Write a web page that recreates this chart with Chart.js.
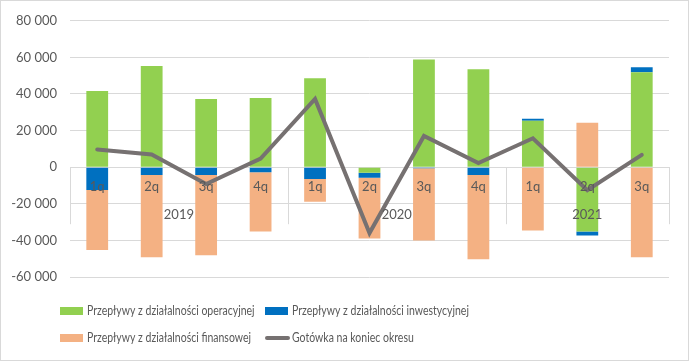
<!DOCTYPE html>
<html>
<head>
<meta charset="utf-8">
<script src="https://cdn.jsdelivr.net/npm/chart.js@4/dist/chart.umd.min.js"></script>
<style>
  html, body { margin: 0; padding: 0; background: #fff; }
  #wrap { width: 689px; height: 361px; position: relative; }
</style>
</head>
<body>
<div id="wrap"><canvas id="c" width="689" height="361"></canvas></div>
<script>
const categories = ['1q','2q','3q','4q','1q','2q','3q','4q','1q','2q','3q'];
const years = ['2019','2020','2021'];
const yearGroupSizes = [4, 4, 3];
const operacyjne   = [41600, 55300, 37300, 37800, 48600, -3000, 58900, 53500, 25400, -35100, 51900];
const inwestycyjne = [-12400, -4300, -4300, -2700, -6500, -2800, -600, -4300, 1100, -2200, 2700];
const finansowe    = [-32800, -44900, -43800, -32400, -12400, -33100, -39400, -46000, -34600, 24300, -49200];
const gotowka      = [9700, 7000, -9200, 4700, 37300, -36000, 17100, 2300, 15800, -12600, 6700];
const seriesNames = ['Przepływy z działalności operacyjnej', 'Przepływy z działalności inwestycyjnej',
                     'Przepływy z działalności finansowej', 'Gotówka na koniec okresu'];

const FONT = 'Lato, "Open Sans", sans-serif';
const TXT = '#595959';
const GRID = '#d9d9d9';

const extras = {
  id: 'extras',
  afterDraw(chart) {
    const ctx = chart.ctx;
    const xs = chart.scales.x, ys = chart.scales.y;
    const ca = chart.chartArea;
    const y0 = ys.getPixelForValue(0);
    const cw = (ca.right - ca.left) / categories.length;
    ctx.save();
    // group dividers
    ctx.strokeStyle = GRID; ctx.lineWidth = 1;
    let idx = 0;
    const bounds = [0];
    yearGroupSizes.forEach(n => { idx += n; bounds.push(idx); });
    bounds.forEach(b => {
      const x = Math.round(ca.left + b * cw) + 0.5;
      ctx.beginPath(); ctx.moveTo(x, y0); ctx.lineTo(x, y0 + 57); ctx.stroke();
    });
    // quarter labels (category axis, first level)
    ctx.fillStyle = TXT; ctx.font = '13px ' + FONT;
    ctx.textAlign = 'center'; ctx.textBaseline = 'middle';
    categories.forEach((q, i) => {
      ctx.fillText(q, xs.getPixelForValue(i), y0 + 20);
    });
    // year labels (category axis, second level)
    years.forEach((yr, i) => {
      const a = xs.getPixelForValue(bounds[i]);
      const b = xs.getPixelForValue(bounds[i + 1] - 1);
      ctx.fillText(yr, (a + b) / 2, y0 + 48);
    });
    // legend
    const ds = chart.data.datasets;
    const items = [
      {ds: ds[0], x: 60, y: 311},
      {ds: ds[1], x: 265, y: 311},
      {ds: ds[2], x: 60, y: 338},
      {ds: ds[3], x: 265, y: 338}
    ];
    ctx.textAlign = 'left'; ctx.font = '12.5px ' + FONT;
    items.forEach(it => {
      if (it.ds.type === 'line') {
        ctx.strokeStyle = it.ds.borderColor; ctx.lineWidth = 4; ctx.lineCap = 'round';
        ctx.beginPath(); ctx.moveTo(it.x + 2, it.y); ctx.lineTo(it.x + 23, it.y); ctx.stroke();
      } else {
        ctx.fillStyle = it.ds.backgroundColor;
        ctx.fillRect(it.x, it.y - 4, 23, 8);
      }
      ctx.fillStyle = TXT;
      ctx.save();
      ctx.translate(it.x + 27, it.y);
      ctx.scale(0.84, 1);
      ctx.fillText(it.ds.label, 0, 0);
      ctx.restore();
    });
    // outer border
    ctx.strokeStyle = GRID; ctx.lineWidth = 1;
    ctx.strokeRect(0.5, 0.5, chart.width - 1, chart.height - 1);
    ctx.restore();
  }
};

new Chart(document.getElementById('c'), {
  data: {
    labels: categories,
    datasets: [
      {type: 'bar', label: seriesNames[0], data: operacyjne, backgroundColor: '#92D050', order: 1},
      {type: 'bar', label: seriesNames[1], data: inwestycyjne, backgroundColor: '#0070C0', order: 1},
      {type: 'bar', label: seriesNames[2], data: finansowe, backgroundColor: '#F4B183', order: 1},
      {type: 'line', label: seriesNames[3], data: gotowka, borderColor: '#767171', backgroundColor: '#767171',
       borderWidth: 4, pointRadius: 0, tension: 0, stack: 'line', order: 0, borderCapStyle: 'round', borderJoinStyle: 'miter'}
    ]
  },
  options: {
    responsive: false,
    animation: false,
    datasets: { bar: { barPercentage: 0.4, categoryPercentage: 1.0 } },
    layout: { padding: { left: 0, right: 20, top: 8, bottom: 84 } },
    plugins: { legend: { display: false }, tooltip: { enabled: false } },
    scales: {
      x: {
        stacked: true,
        position: { y: 0 },
        grid: { display: false },
        border: { display: true, color: GRID },
        ticks: { display: false }
      },
      y: {
        stacked: true,
        min: -60000, max: 80000,
        afterFit(scale) { scale.width = 70; },
        grid: { color: GRID, drawTicks: false },
        border: { display: false },
        ticks: {
          stepSize: 20000, color: TXT, padding: 13,
          font: { family: FONT, size: 13 },
          callback: v => (v < 0 ? '-' : '') + Math.abs(v).toString().replace(/\B(?=(\d{3})+(?!\d))/g, ' ')
        }
      }
    }
  },
  plugins: [extras]
});
</script>
</body>
</html>
